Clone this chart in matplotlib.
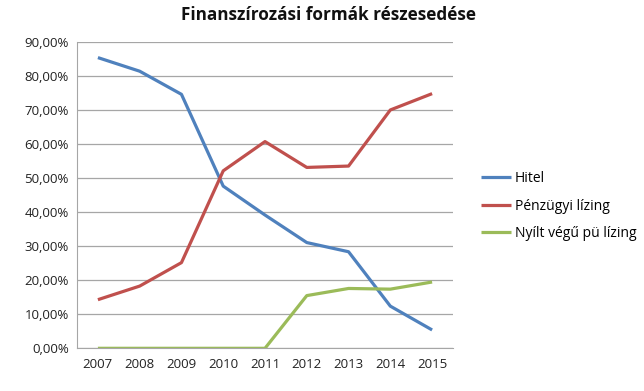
import matplotlib
matplotlib.use("Agg")
import matplotlib.pyplot as plt
from matplotlib.ticker import FuncFormatter

years = ["2007", "2008", "2009", "2010", "2011", "2012", "2013", "2014", "2015"]
hitel = [85.5, 81.5, 74.7, 47.7, 39.2, 31.1, 28.4, 12.4, 5.4]
penzugyi_lizing = [14.3, 18.3, 25.2, 52.2, 60.8, 53.2, 53.6, 70.1, 74.9]
nyilt_vegu = [0.0, 0.0, 0.0, 0.0, 0.0, 15.5, 17.6, 17.4, 19.5]

series = [
    ("Hitel", hitel, "#4F81BD"),
    ("Pénzügyi lízing", penzugyi_lizing, "#C0504D"),
    ("Nyílt végű pü lízing", nyilt_vegu, "#9BBB59"),
]

plt.rcParams['font.family'] = ['Open Sans', 'DejaVu Sans']

fig = plt.figure(figsize=(6.44, 3.91), dpi=100)
ax = fig.add_axes([0.1196, 0.1092, 0.5838, 0.7826])

x = list(range(len(years)))
for name, vals, col in series:
    ax.plot(x, vals, color=col, linewidth=2.3, label=name, solid_capstyle='butt')

ax.set_xlim(-0.5, len(years) - 0.5)
ax.set_ylim(0, 90)
ax.set_yticks(range(0, 91, 10))
ax.yaxis.set_major_formatter(FuncFormatter(lambda v, p: f"{v:.2f}%".replace(".", ",")))
ax.set_xticks(x)
ax.set_xticklabels(years)
ax.tick_params(axis='both', length=0, labelsize=9.5, colors='#222222')
ax.tick_params(axis='x', pad=7)
ax.tick_params(axis='y', pad=6)
ax.grid(axis='y', color='#A6A6A6', linewidth=0.9)
ax.set_axisbelow(True)
for s in ['top', 'right']:
    ax.spines[s].set_visible(False)
ax.spines['left'].set_color('#A6A6A6')
ax.spines['bottom'].set_color('#A6A6A6')

fig.text(0.51, 0.962, "Finanszírozási formák részesedése", ha='center', va='center',
         fontsize=12.3, fontweight='bold', color='#111111')

leg = fig.legend(loc='center left', bbox_to_anchor=(0.727, 0.473), frameon=False,
                 fontsize=10, handlelength=2.2, handletextpad=0.25, labelspacing=0.9)

fig.savefig("out.png", dpi=100)
